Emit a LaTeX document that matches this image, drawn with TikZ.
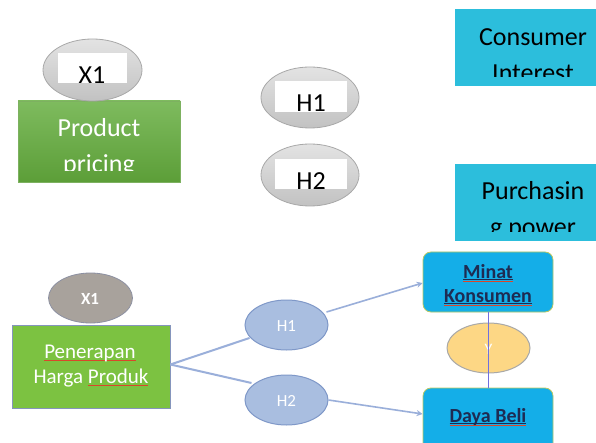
\documentclass[tikz,border=0pt]{standalone}
\usepackage{fontspec}
\setmainfont{Carlito}
\usetikzlibrary{shapes.geometric,arrows.meta}
\definecolor{grayline}{HTML}{A8A8A8}
\definecolor{greentop}{HTML}{7EBB5E}
\definecolor{greenbot}{HTML}{5C9E38}
\definecolor{cyanbox}{HTML}{2CBEDC}
\definecolor{greenB}{HTML}{7CC241}
\definecolor{greenBline}{HTML}{8595BC}
\definecolor{grayB}{HTML}{A8A29C}
\definecolor{grayBline}{HTML}{8C90A2}
\definecolor{blueell}{HTML}{A9BEE0}
\definecolor{blueellline}{HTML}{7F98C8}
\definecolor{bluebox}{HTML}{14AEE8}
\definecolor{blueboxline}{HTML}{B9C862}
\definecolor{yellowell}{HTML}{FDD785}
\definecolor{conn}{HTML}{9AAFDA}
\definecolor{vline}{HTML}{7070E0}
\definecolor{navy}{HTML}{1E2B52}
\definecolor{spellred}{HTML}{D9472B}
\newcommand\spellmark[1]{\setbox0\hbox{#1}\rlap{\color{spellred}\rule[-3.2pt]{\wd0}{1pt}}\box0}
\newcommand\ulspell[1]{\setbox0\hbox{#1}\rlap{\color{navy}\rule[-2pt]{\wd0}{0.8pt}}\rlap{\color{spellred}\rule[-3.6pt]{\wd0}{0.9pt}}\box0}
\tikzset{
  grayell/.style={ellipse, draw=grayline, line width=0.8pt, top color=gray!22, bottom color=gray!48, inner sep=0pt},
  labelbox/.style={fill=white, inner sep=0pt},
  bigtxt/.style={font=\fontsize{26}{30}\selectfont, inner sep=0pt, anchor=base},
  greenboxA/.style={rectangle, draw=greenbot!80, top color=greentop, bottom color=greenbot, inner sep=0pt},
  cyanboxA/.style={rectangle, fill=cyanbox, inner sep=0pt},
  smalltxt/.style={font=\fontsize{21}{24}\selectfont, inner sep=0pt, anchor=base},
  boldtxt/.style={font=\bfseries\fontsize{20}{23}\selectfont, inner sep=0pt, anchor=base, text=navy},
  ellB/.style={ellipse, draw=blueellline, line width=1pt, fill=blueell, inner sep=0pt},
  boxB/.style={rectangle, rounded corners=8pt, draw=blueboxline, line width=0.8pt, fill=bluebox, inner sep=0pt},
  connB/.style={draw=conn, line width=2pt},
  arrB/.style={draw=conn, line width=1.6pt, -{Stealth[length=6pt,width=6pt]}},
}
\begin{document}
\begin{tikzpicture}[x=1pt,y=-1pt]
\useasboundingbox (0,0) rectangle (596,443);
\fill[white] (0,0) rectangle (596,443);
% ---------------- top half ----------------
\node[greenboxA, minimum width=162pt, minimum height=81pt] (pp) at (99,141.5) {};
\node[grayell, minimum width=99pt, minimum height=62pt] (x1t) at (92.5,70) {};
\node[labelbox, minimum width=69pt, minimum height=30pt] (x1lab) at (92.5,68) {};
\begin{scope}
  \clip (x1lab.south west) rectangle (x1lab.north east);
  \node[bigtxt] (x1txt) at (92,83.8) {X1};
\end{scope}
\begin{scope}
  \clip (18,101) rectangle (180,171);
  \node[bigtxt, text=white] (pptxt1) at (99,137) {Product};
  \node[bigtxt, text=white] (pptxt2) at (99,172.5) {pricing};
\end{scope}
\node[grayell, minimum width=98pt, minimum height=61pt] (h1t) at (310,97.5) {};
\node[labelbox, minimum width=72pt, minimum height=31pt] (h1lab) at (311,96.5) {};
\begin{scope}
  \clip (h1lab.south west) rectangle (h1lab.north east);
  \node[bigtxt] (h1txt) at (311,111.8) {H1};
\end{scope}
\node[grayell, minimum width=98pt, minimum height=62pt] (h2t) at (310,175) {};
\node[labelbox, minimum width=72pt, minimum height=30pt] (h2lab) at (311,174) {};
\begin{scope}
  \clip (h2lab.south west) rectangle (h2lab.north east);
  \node[bigtxt] (h2txt) at (311,189.8) {H2};
\end{scope}
\node[cyanboxA, minimum width=150pt, minimum height=77pt] (ci) at (530,47.5) {};
\begin{scope}
  \clip (455,9) rectangle (596,77);
  \node[bigtxt] (citxt1) at (533,46) {Consumer};
  \node[bigtxt] (citxt2) at (533,81.5) {Interest};
\end{scope}
\node[cyanboxA, minimum width=150pt, minimum height=77pt] (pw) at (530,202.5) {};
\begin{scope}
  \clip (455,164) rectangle (596,232);
  \node[bigtxt] (pwtxt1) at (533,200) {Purchasin};
  \node[bigtxt] (pwtxt2) at (533,235.5) {g power};
\end{scope}
% ---------------- bottom half ----------------
\node[rectangle, draw=greenBline, line width=0.8pt, fill=greenB, minimum width=158pt, minimum height=83pt, inner sep=0pt] (ph) at (91,366.5) {};
\node[ellipse, draw=grayBline, line width=0.8pt, fill=grayB, minimum width=84pt, minimum height=50pt, inner sep=0pt] (x1b) at (90.5,298) {};
\node[smalltxt, text=white, font=\bfseries\fontsize{17}{20}\selectfont] (x1btxt) at (90,304) {X1};
\node[smalltxt, text=white] (phtxt1) at (90,358) {\spellmark{Penerapan}};
\node[smalltxt, text=white] (phtxt2) at (91,383) {Harga \spellmark{Produk}};
\node[ellB, minimum width=83pt, minimum height=50pt] (h1b) at (286.5,325) {};
\node[smalltxt, text=white, font=\fontsize{17}{20}\selectfont] (h1btxt) at (286.5,331) {H1};
\node[ellB, minimum width=83pt, minimum height=50pt] (h2b) at (286.5,400) {};
\node[smalltxt, text=white, font=\fontsize{17}{20}\selectfont] (h2btxt) at (286.5,406) {H2};
\node[boxB, minimum width=130pt, minimum height=60pt] (mk) at (488,282) {};
\node[boldtxt] (mktxt1) at (488,278) {\ulspell{Minat}};
\node[boldtxt] (mktxt2) at (488,302) {\ulspell{Konsumen}};
\node[boxB, minimum width=130pt, minimum height=70pt] (db) at (488,423) {};
\node[boldtxt] (dbtxt) at (488,422) {\ulspell{Daya Beli}};
\node[ellipse, draw=grayline, line width=1pt, fill=yellowell, minimum width=83pt, minimum height=50pt, inner sep=0pt] (yb) at (488.5,348) {};
\node[smalltxt, text=white, font=\fontsize{16}{18}\selectfont] (ybtxt) at (488.5,354) {Y};
% connectors
\path (ph.east) ++(0,-2) coordinate (phr);
\path (h1b) ++(-37,13) coordinate (h1in);
\path (h2b) ++(-35,-17) coordinate (h2in);
\draw[connB] (phr) -- (h1in);
\draw[connB] (phr) -- (h2in);
\path (h1b) ++(40,-13) coordinate (h1out);
\draw[arrB] (h1out) -- (mk.west |- 0,283);
\path (h2b.east) coordinate (h2out);
\draw[arrB] (h2out) -- (db.west |- 0,414);
\draw[draw=vline, line width=0.9pt] (mk.south) -- (db.north);
\end{tikzpicture}
\end{document}
